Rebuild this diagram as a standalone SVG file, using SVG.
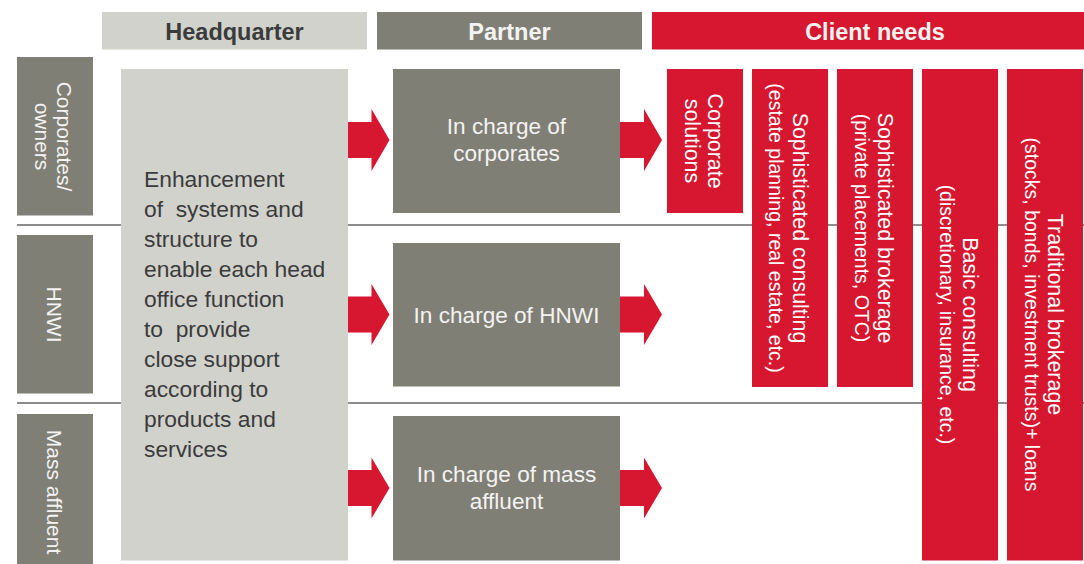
<svg xmlns="http://www.w3.org/2000/svg" width="1084" height="564" viewBox="0 0 1084 564">
  <defs>
    <style>
      text { font-family: "Liberation Sans", Arial, Helvetica, sans-serif; }
      .hq { fill: #d1d2cc; }
      .gray { fill: #807f76; }
      .red { fill: #d7172f; }
      .head { font-size: 23.5px; font-weight: bold; text-anchor: middle; }
      .dark { fill: #3b3b3b; }
      .light { fill: #f3f3f1; }
      .seg { font-size: 21px; text-anchor: middle; fill: #f3f3f1; }
      .body { font-size: 22.8px; fill: #3b3b3b; white-space: pre; }
      .ptxt { font-size: 22.6px; text-anchor: middle; fill: #f3f3f1; }
      .need1 { font-size: 21.4px; text-anchor: middle; fill: #ffffff; }
      .need2 { font-size: 19.5px; text-anchor: middle; fill: #ffffff; }
      .rule { stroke: #666666; stroke-width: 1.5; fill: none; }
      .arrow { fill: #d7172f; }
    </style>
  </defs>

  <rect width="1084" height="564" fill="#ffffff"/>

  <!-- row dividers -->
  <g id="dividers">
    <line class="rule" x1="17" y1="225" x2="1084" y2="225"/>
    <line class="rule" x1="17" y1="403" x2="1084" y2="403"/>
  </g>

  <!-- column headers -->
  <g id="header-headquarter">
    <rect class="hq" x="102" y="12" width="265" height="37.5"/>
    <text class="head dark" x="234.5" y="39.5">Headquarter</text>
  </g>
  <g id="header-partner">
    <rect class="gray" x="377" y="12" width="265" height="37.5"/>
    <text class="head light" x="509.5" y="39.5">Partner</text>
  </g>
  <g id="header-client-needs">
    <rect class="red" x="652" y="12" width="432" height="37.5"/>
    <text class="head light" x="875" y="39.5">Client needs</text>
  </g>

  <!-- client segments (vertical labels) -->
  <g id="segment-corporates">
    <rect class="gray" x="17" y="57" width="76" height="158.5"/>
    <text class="seg" transform="translate(57,136.5) rotate(90)">Corporates/</text>
    <text class="seg" transform="translate(35,136.5) rotate(90)">owners</text>
  </g>
  <g id="segment-hnwi">
    <rect class="gray" x="17" y="235" width="76" height="158.5"/>
    <text class="seg" transform="translate(47,314.5) rotate(90)">HNWI</text>
  </g>
  <g id="segment-mass-affluent">
    <rect class="gray" x="17" y="414" width="76" height="150"/>
    <text class="seg" transform="translate(47,492) rotate(90)">Mass affluent</text>
  </g>

  <!-- headquarter support -->
  <g id="hq-support">
    <rect class="hq" x="121" y="69" width="227" height="491.5"/>
    <text class="body" x="144" y="187">Enhancement</text>
    <text class="body" x="144" y="217">of  systems and</text>
    <text class="body" x="144" y="247">structure to</text>
    <text class="body" x="144" y="277">enable each head</text>
    <text class="body" x="144" y="307">office function</text>
    <text class="body" x="144" y="337">to  provide</text>
    <text class="body" x="144" y="367">close support</text>
    <text class="body" x="144" y="397">according to</text>
    <text class="body" x="144" y="427">products and</text>
    <text class="body" x="144" y="457">services</text>
  </g>

  <!-- partner roles -->
  <g id="partner-corporates">
    <rect class="gray" x="393" y="69" width="227" height="144"/>
    <text class="ptxt" x="506.5" y="134">In charge of</text>
    <text class="ptxt" x="506.5" y="160.5">corporates</text>
  </g>
  <g id="partner-hnwi">
    <rect class="gray" x="393" y="243" width="227" height="143.5"/>
    <text class="ptxt" x="506.5" y="322.5">In charge of HNWI</text>
  </g>
  <g id="partner-mass-affluent">
    <rect class="gray" x="393" y="416" width="227" height="144.5"/>
    <text class="ptxt" x="506.5" y="482">In charge of mass</text>
    <text class="ptxt" x="506.5" y="509">affluent</text>
  </g>

  <!-- client needs columns -->
  <g id="need-corporate-solutions">
    <rect class="red" x="667" y="69" width="76" height="144"/>
    <text class="need1" transform="translate(708,141) rotate(90)">Corporate</text>
    <text class="need1" transform="translate(685,141) rotate(90)">solutions</text>
  </g>
  <g id="need-sophisticated-consulting">
    <rect class="red" x="752" y="69" width="76" height="318"/>
    <text class="need1" transform="translate(793,228) rotate(90)">Sophisticated consulting</text>
    <text class="need2" transform="translate(769,228) rotate(90)">(estate planning, real estate, etc.)</text>
  </g>
  <g id="need-sophisticated-brokerage">
    <rect class="red" x="837" y="69" width="76" height="318"/>
    <text class="need1" transform="translate(878,228) rotate(90)">Sophisticated brokerage</text>
    <text class="need2" transform="translate(855,228) rotate(90)">(private placements, OTC)</text>
  </g>
  <g id="need-basic-consulting">
    <rect class="red" x="922" y="69" width="76" height="491.5"/>
    <text class="need1" transform="translate(963,314.5) rotate(90)">Basic consulting</text>
    <text class="need2" transform="translate(940,314.5) rotate(90)">(discretionary, insurance, etc.)</text>
  </g>
  <g id="need-traditional-brokerage">
    <rect class="red" x="1007" y="69" width="76" height="491.5"/>
    <text class="need1" transform="translate(1048,314.5) rotate(90)">Traditional brokerage</text>
    <text class="need2" transform="translate(1025,314.5) rotate(90)">(stocks, bonds, investment trusts)+ loans</text>
  </g>

  <!-- connectors: block arrows HQ -> partner -> client needs -->
  <g id="connectors">
    <polygon class="arrow" points="348,122 371.5,122 371.5,109 389.5,140 371.5,171 371.5,158 348,158"/>
    <polygon class="arrow" points="620,122 644,122 644,109 662,140 644,171 644,158 620,158"/>
    <polygon class="arrow" points="348,296.5 371.5,296.5 371.5,284 389.5,314.5 371.5,345 371.5,332.5 348,332.5"/>
    <polygon class="arrow" points="620,296.5 644,296.5 644,284 662,314.5 644,345 644,332.5 620,332.5"/>
    <polygon class="arrow" points="348,470 371.5,470 371.5,457.5 389.5,488 371.5,518.5 371.5,506 348,506"/>
    <polygon class="arrow" points="620,470 644,470 644,457.5 662,488 644,518.5 644,506 620,506"/>
  </g>
</svg>
